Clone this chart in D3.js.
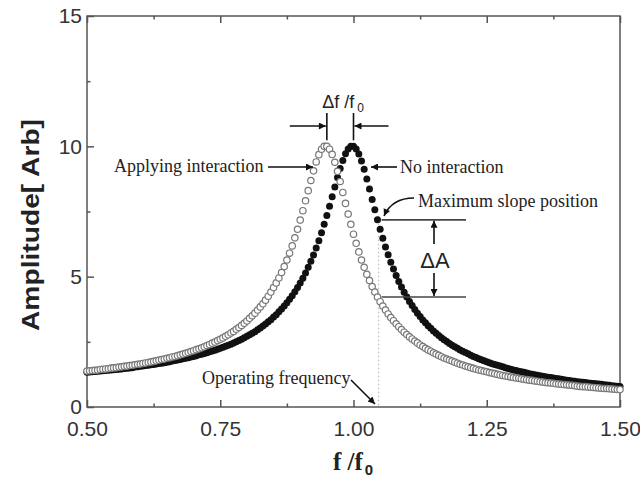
<!DOCTYPE html>
<html>
<head>
<meta charset="utf-8">
<script src="https://cdn.jsdelivr.net/npm/d3@7"></script>
<style>
  body { margin: 0; background: #fff; }
  svg { display: block; }
</style>
</head>
<body>
<script>
// normalised frequency f/f0, sampled every 0.005
var freq = [
  0.500,0.505,0.510,0.515,0.520,0.525,0.530,0.535,0.540,0.545,
  0.550,0.555,0.560,0.565,0.570,0.575,0.580,0.585,0.590,0.595,
  0.600,0.605,0.610,0.615,0.620,0.625,0.630,0.635,0.640,0.645,
  0.650,0.655,0.660,0.665,0.670,0.675,0.680,0.685,0.690,0.695,
  0.700,0.705,0.710,0.715,0.720,0.725,0.730,0.735,0.740,0.745,
  0.750,0.755,0.760,0.765,0.770,0.775,0.780,0.785,0.790,0.795,
  0.800,0.805,0.810,0.815,0.820,0.825,0.830,0.835,0.840,0.845,
  0.850,0.855,0.860,0.865,0.870,0.875,0.880,0.885,0.890,0.895,
  0.900,0.905,0.910,0.915,0.920,0.925,0.930,0.935,0.940,0.945,
  0.950,0.955,0.960,0.965,0.970,0.975,0.980,0.985,0.990,0.995,
  1.000,1.005,1.010,1.015,1.020,1.025,1.030,1.035,1.040,1.045,
  1.050,1.055,1.060,1.065,1.070,1.075,1.080,1.085,1.090,1.095,
  1.100,1.105,1.110,1.115,1.120,1.125,1.130,1.135,1.140,1.145,
  1.150,1.155,1.160,1.165,1.170,1.175,1.180,1.185,1.190,1.195,
  1.200,1.205,1.210,1.215,1.220,1.225,1.230,1.235,1.240,1.245,
  1.250,1.255,1.260,1.265,1.270,1.275,1.280,1.285,1.290,1.295,
  1.300,1.305,1.310,1.315,1.320,1.325,1.330,1.335,1.340,1.345,
  1.350,1.355,1.360,1.365,1.370,1.375,1.380,1.385,1.390,1.395,
  1.400,1.405,1.410,1.415,1.420,1.425,1.430,1.435,1.440,1.445,
  1.450,1.455,1.460,1.465,1.470,1.475,1.480,1.485,1.490,1.495,
  1.500
];

// filled dots: no interaction
var noInteraction = [
  1.33,1.34,1.35,1.36,1.37,1.38,1.39,1.40,1.41,1.42,
  1.43,1.44,1.45,1.46,1.48,1.49,1.50,1.51,1.53,1.54,
  1.56,1.57,1.59,1.60,1.62,1.63,1.65,1.67,1.68,1.70,
  1.72,1.74,1.76,1.78,1.80,1.82,1.85,1.87,1.89,1.92,
  1.94,1.97,2.00,2.02,2.05,2.08,2.12,2.15,2.18,2.22,
  2.25,2.29,2.33,2.37,2.41,2.46,2.50,2.55,2.60,2.66,
  2.71,2.77,2.83,2.89,2.96,3.03,3.11,3.18,3.27,3.35,
  3.45,3.54,3.65,3.76,3.87,4.00,4.13,4.27,4.42,4.58,
  4.76,4.94,5.14,5.36,5.59,5.83,6.10,6.38,6.68,7.01,
  7.35,7.70,8.07,8.44,8.80,9.15,9.46,9.72,9.90,10.00,
  10.00,9.90,9.71,9.44,9.12,8.75,8.36,7.96,7.57,7.18,
  6.82,6.47,6.14,5.84,5.55,5.29,5.04,4.81,4.60,4.40,
  4.22,4.05,3.89,3.74,3.60,3.47,3.34,3.23,3.12,3.02,
  2.92,2.83,2.74,2.66,2.58,2.51,2.44,2.37,2.31,2.25,
  2.19,2.14,2.09,2.04,1.99,1.94,1.90,1.85,1.81,1.77,
  1.74,1.70,1.66,1.63,1.60,1.57,1.54,1.51,1.48,1.45,
  1.42,1.40,1.37,1.35,1.33,1.30,1.28,1.26,1.24,1.22,
  1.20,1.18,1.16,1.14,1.13,1.11,1.09,1.08,1.06,1.05,
  1.03,1.02,1.00,0.99,0.97,0.96,0.95,0.94,0.92,0.91,
  0.90,0.89,0.88,0.87,0.85,0.84,0.83,0.82,0.81,0.80,
  0.79
];

// open circles: applying interaction
var applying = [
  1.38,1.39,1.40,1.41,1.42,1.44,1.45,1.46,1.47,1.49,
  1.50,1.51,1.53,1.54,1.56,1.57,1.59,1.60,1.62,1.64,
  1.65,1.67,1.69,1.71,1.73,1.75,1.77,1.80,1.82,1.84,
  1.87,1.89,1.92,1.94,1.97,2.00,2.03,2.06,2.09,2.13,
  2.16,2.20,2.23,2.27,2.31,2.36,2.40,2.45,2.49,2.55,
  2.60,2.65,2.71,2.77,2.84,2.90,2.98,3.05,3.13,3.21,
  3.30,3.40,3.50,3.60,3.72,3.84,3.96,4.10,4.25,4.41,
  4.58,4.76,4.95,5.16,5.39,5.64,5.90,6.18,6.49,6.82,
  7.17,7.53,7.91,8.30,8.69,9.06,9.40,9.68,9.89,10.00,
  10.00,9.89,9.69,9.39,9.04,8.65,8.23,7.81,7.40,7.01,
  6.63,6.28,5.95,5.64,5.36,5.09,4.85,4.62,4.41,4.22,
  4.04,3.87,3.72,3.57,3.43,3.31,3.19,3.08,2.97,2.87,
  2.78,2.69,2.61,2.53,2.46,2.38,2.32,2.25,2.19,2.14,
  2.08,2.03,1.98,1.93,1.88,1.84,1.80,1.76,1.72,1.68,
  1.64,1.61,1.57,1.54,1.51,1.48,1.45,1.42,1.40,1.37,
  1.35,1.32,1.30,1.28,1.25,1.23,1.21,1.19,1.17,1.15,
  1.13,1.11,1.10,1.08,1.06,1.05,1.03,1.02,1.00,0.99,
  0.97,0.96,0.94,0.93,0.92,0.91,0.89,0.88,0.87,0.86,
  0.85,0.84,0.83,0.82,0.80,0.79,0.78,0.78,0.77,0.76,
  0.75,0.74,0.73,0.72,0.71,0.71,0.70,0.69,0.68,0.67,
  0.67
];

var xTicks = [0.50, 0.75, 1.00, 1.25, 1.50];
var xMinor = [0.625, 0.875, 1.125, 1.375];
var yTicks = [0, 5, 10, 15];
var yMinor = [2.5, 7.5, 12.5];

var peakApplying = 0.95;
var peakNone = 1.00;
var operatingFreq = 1.047;
var levelHigh = 7.18;
var levelLow = 4.22;

var w = 640;
var h = 479;

var svg = d3.select("body")
			.append("svg")
			.attr("width", w)
			.attr("height", h);

var xScale = d3.scaleLinear().domain([0.5, 1.5]).range([87, 620]);
var yScale = d3.scaleLinear().domain([0, 15]).range([407, 16]);

var axisColor = "#555";

// arrow head
svg.append("defs").append("marker")
	.attr("id", "head")
	.attr("viewBox", "0 0 10 10")
	.attr("refX", 10).attr("refY", 5)
	.attr("markerUnits", "userSpaceOnUse")
	.attr("markerWidth", 9).attr("markerHeight", 7)
	.attr("orient", "auto")
	.append("path")
	.attr("d", "M0,0 L10,5 L0,10 Z")
	.attr("fill", "#111");

function styleAxis(g) {
	g.select(".domain").remove();
	g.selectAll(".tick line").attr("stroke", axisColor).attr("stroke-width", 1.5);
	g.selectAll(".tick text")
		.attr("fill", "#333")
		.style("font-family", "'Liberation Sans', Arial, sans-serif")
		.style("font-size", "21px");
}

// bottom
svg.append("g")
	.attr("transform", "translate(0," + yScale(0) + ")")
	.call(d3.axisBottom(xScale).tickValues(xTicks).tickSize(-7).tickPadding(14).tickFormat(d3.format(".2f")))
	.call(styleAxis);
svg.append("g")
	.attr("transform", "translate(0," + yScale(0) + ")")
	.call(d3.axisBottom(xScale).tickValues(xMinor).tickSize(-3.5).tickFormat(""))
	.call(styleAxis);
// top
svg.append("g")
	.attr("transform", "translate(0," + yScale(15) + ")")
	.call(d3.axisTop(xScale).tickValues(xTicks).tickSize(-7).tickFormat(""))
	.call(styleAxis);
svg.append("g")
	.attr("transform", "translate(0," + yScale(15) + ")")
	.call(d3.axisTop(xScale).tickValues(xMinor).tickSize(-3.5).tickFormat(""))
	.call(styleAxis);
// left
svg.append("g")
	.attr("transform", "translate(" + xScale(0.5) + ",0)")
	.call(d3.axisLeft(yScale).tickValues(yTicks).tickSize(-7).tickPadding(5).tickFormat(d3.format("d")))
	.call(styleAxis);
svg.append("g")
	.attr("transform", "translate(" + xScale(0.5) + ",0)")
	.call(d3.axisLeft(yScale).tickValues(yMinor).tickSize(-3.5).tickFormat(""))
	.call(styleAxis);

// frame
svg.append("rect")
	.attr("x", xScale(0.5)).attr("y", yScale(15))
	.attr("width", xScale(1.5) - xScale(0.5))
	.attr("height", yScale(0) - yScale(15))
	.attr("fill", "none")
	.attr("stroke", axisColor)
	.attr("stroke-width", 1.5);

// operating frequency dotted line
svg.append("line")
	.attr("x1", xScale(operatingFreq)).attr("x2", xScale(operatingFreq))
	.attr("y1", yScale(levelHigh) - 4).attr("y2", yScale(0))
	.attr("stroke", "#bbb")
	.attr("stroke-width", 1.2)
	.attr("stroke-dasharray", "1.5,2.5");

// filled series
svg.append("g").selectAll("circle")
	.data(freq)
	.enter()
	.append("circle")
	.attr("cx", function(d){ return xScale(d); })
	.attr("cy", function(d, i){ return yScale(noInteraction[i]); })
	.attr("r", 3.5)
	.attr("fill", "#111");

// open series
svg.append("g").selectAll("circle")
	.data(freq)
	.enter()
	.append("circle")
	.attr("cx", function(d){ return xScale(d); })
	.attr("cy", function(d, i){ return yScale(applying[i]); })
	.attr("r", 3.2)
	.attr("fill", "#fff")
	.attr("stroke", "#777")
	.attr("stroke-width", 1.2);

var serif = "'Liberation Serif', 'Times New Roman', serif";
var sans = "'Liberation Sans', Arial, sans-serif";

function label(x, y, txt) {
	svg.append("text")
		.attr("x", x).attr("y", y)
		.attr("fill", "#222")
		.style("font-family", serif)
		.style("font-size", "18px")
		.text(txt);
}
function arrow(x1, y1, x2, y2) {
	svg.append("line")
		.attr("x1", x1).attr("y1", y1).attr("x2", x2).attr("y2", y2)
		.attr("stroke", "#111").attr("stroke-width", 1.6)
		.attr("marker-end", "url(#head)");
}

// delta f / f0
var xa = xScale(peakApplying), xn = xScale(peakNone);
[xa, xn].forEach(function(x){
	svg.append("line")
		.attr("x1", x).attr("x2", x)
		.attr("y1", 113).attr("y2", yScale(10) - 6)
		.attr("stroke", "#111").attr("stroke-width", 1.6);
});
arrow(xa - 37, 126, xa - 1, 126);
arrow(xn + 35, 126, xn + 1, 126);
var df = svg.append("text")
	.attr("x", (xa + xn) / 2 + 3).attr("y", 108)
	.attr("text-anchor", "middle")
	.attr("fill", "#222")
	.style("font-family", sans)
	.style("font-size", "18px");
df.append("tspan").text("\u0394f /f");
df.append("tspan").attr("dx", 3).attr("dy", 4).style("font-size", "12px").text("0");

label(114, 172, "Applying interaction");
arrow(268, 167, 313, 167);
label(400, 173, "No interaction");
arrow(397, 167, 371, 167);

label(418, 207, "Maximum slope position");
svg.append("path")
	.attr("d", "M414,198 Q392,198 384,216")
	.attr("fill", "none")
	.attr("stroke", "#111").attr("stroke-width", 1.6)
	.attr("marker-end", "url(#head)");

// delta A
[levelHigh, levelLow].forEach(function(v){
	svg.append("line")
		.attr("x1", xScale(operatingFreq) + 3).attr("x2", 466)
		.attr("y1", yScale(v)).attr("y2", yScale(v))
		.attr("stroke", "#444").attr("stroke-width", 1.6);
});
arrow(434, 244, 434, yScale(levelHigh) + 1);
arrow(434, 273, 434, yScale(levelLow) - 1);
svg.append("text")
	.attr("x", 435).attr("y", 268)
	.attr("text-anchor", "middle")
	.attr("fill", "#222")
	.style("font-family", sans)
	.style("font-size", "22px")
	.text("\u0394A");

label(202, 384, "Operating frequency");
arrow(351, 380, 375, 404);

// axis titles
svg.append("text")
	.attr("transform", "translate(39,225) rotate(-90)")
	.attr("text-anchor", "middle")
	.attr("fill", "#222")
	.attr("textLength", 212)
	.attr("lengthAdjust", "spacingAndGlyphs")
	.style("font-family", sans)
	.style("font-weight", "bold")
	.style("font-size", "23px")
	.text("Amplitude[ Arb]");

var xt = svg.append("text")
	.attr("x", 353).attr("y", 470)
	.attr("text-anchor", "middle")
	.attr("fill", "#222")
	.style("font-weight", "bold");
xt.append("tspan").style("font-family", serif).style("font-size", "25px").text("f /f");
xt.append("tspan").attr("dx", 2).attr("dy", 5).style("font-family", sans).style("font-size", "15px").text("0");
</script>
</body>
</html>
